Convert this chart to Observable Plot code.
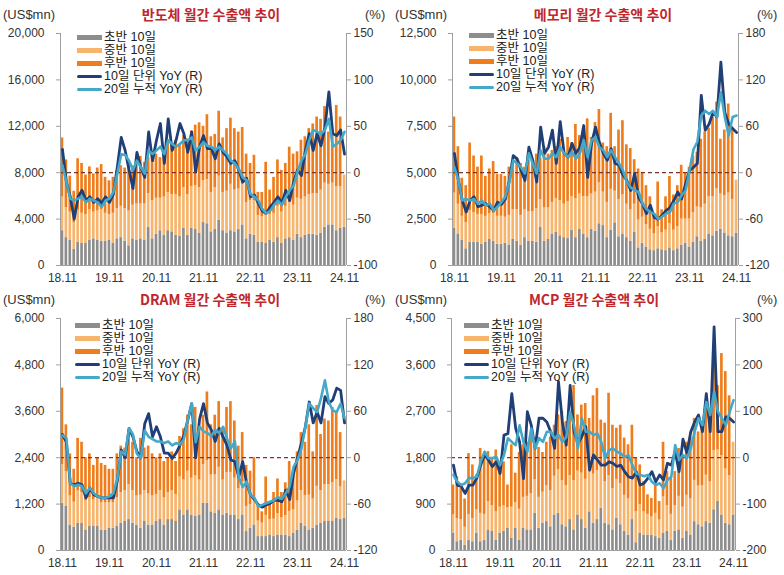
<!DOCTYPE html>
<html><head><meta charset="utf-8">
<script src="https://cdn.jsdelivr.net/npm/d3@7"></script>
<script src="https://cdn.jsdelivr.net/npm/@observablehq/plot@0.6"></script>
<style>
body{margin:0;background:#fff;}
#wrap{position:relative;width:784px;height:575px;overflow:hidden;font-family:"Liberation Sans","Noto Sans CJK KR",sans-serif;color:#333;}
.panel{position:absolute;}
.title{position:absolute;font-family:"Noto Sans CJK KR",sans-serif;font-weight:700;font-size:14px;color:#c0272d;transform:translateX(-50%);white-space:nowrap;line-height:16px;}
.unit{position:absolute;font-size:13px;color:#333;line-height:15px;white-space:nowrap;}
.leg{position:absolute;font-size:12.5px;color:#222;}
.leg .row{position:absolute;left:0;white-space:nowrap;height:12px;}
.leg .sw{position:absolute;left:0;width:25px;}
.leg .tx{position:absolute;left:27px;top:0;line-height:12px;height:12px;}
</style></head>
<body><div id="wrap"></div>
<script>
// ---- x axis ----
const xTickPos = [0, 12, 24, 36, 48, 60, 72];
const xTickLabels = ["18.11", "19.11", "20.11", "21.11", "22.11", "23.11", "24.11"];
const seriesNames = ["초반 10일", "중반 10일", "후반 10일", "10일 단위 YoY (R)", "20일 누적 YoY (R)"];
const titles = ["반도체 월간 수출액 추이", "메모리 월간 수출액 추이", "DRAM 월간 수출액 추이", "MCP 월간 수출액 추이"];

// ---- 반도체 (US$mn, %) ----
const semiLeftTicks = [0, 4000, 8000, 12000, 16000, 20000];
const semiRightTicks = [-100, -50, 0, 50, 100, 150];
const semi_g = [3000,2400,2200,1400,2000,1900,1900,2200,2300,2200,2100,2100, 2200,1900,2300,2400,2100,1700,2300,2200,2300,2200,3300,2300, 2700,3000,2600,3000,2900,2600,2500,3200,2600,3200,3100,2800, 3700,3600,2900,3100,3900,3000,2800,3000,2900,3100,3500,2300, 2700,2600,2000,2000,1900,2200,2000,2400,1900,2300,2400,2200, 2700,2400,2600,2700,2700,2600,2800,3300,3500,3500,3000,3200,3300];
const semi_m = [2900,2600,2400,2300,2800,2600,2500,2600,2300,2500,2700,2400, 2200,2600,2600,2700,2800,3000,2900,3100,3000,3100,2900,3300, 3100,2800,3300,3300,3200,3500,3400,3500,3500,3600,3800,3900, 3600,3800,3400,3600,3800,3300,3600,4000,3600,3500,3500,3100, 2900,3000,2300,2200,2600,2200,2500,2700,2700,2800,3000,3000, 3100,3300,3300,3400,3500,3600,3700,3800,3500,3600,3800,3600,4500];
const semi_l = [5100,4100,3100,2700,4400,4300,3400,3700,3300,3700,3900,3100, 2900,3100,3300,3500,3500,4300,3400,3900,4100,3600,3100,4200, 3800,3500,4300,4300,4000,4700,4500,4500,4800,4800,5200,5600, 4700,5600,4800,4600,5600,4700,5400,5700,5300,4900,4900,4200, 3200,3900,2000,2100,4400,2100,3100,4000,3600,3700,4800,4400, 4000,5100,5200,5700,6000,6600,6100,6600,4500,4300,7000,6000,0];
const semi_d10 = [25,-10,-26,-50,-26,-19,-30,-26,-32,-28,-33,-26, -32,-23,6,38,24,3,-17,22,6,-5,44,13, 35,53,10,58,24,35,53,42,22,44,1,28, 40,26,26,15,31,22,17,10,13,3,-10,-6, -26,-24,-33,-41,-44,-37,-32,-26,-33,-19,-30,-10, 3,-3,24,42,24,42,29,49,87,42,40,46,20];
const semi_d20 = [8,-10,-28,-30,-28,-26,-32,-28,-30,-32,-37,-30, -28,-21,-1,20,19,13,3,13,6,-1,24,20, 24,28,20,35,31,28,31,35,35,38,24,28, 33,29,28,24,28,24,20,13,10,4,-5,-8, -23,-26,-30,-39,-44,-41,-35,-30,-35,-26,-19,-14, 1,13,20,35,46,44,42,46,58,28,31,35,44];

// ---- 메모리 ----
const memLeftTicks = [0, 2500, 5000, 7500, 10000, 12500];
const memRightTicks = [-120, -60, 0, 60, 120, 180];
const mem_g = [2000,1700,1350,900,1250,1250,1250,1150,1250,1400,1300,1150, 1150,1200,1100,1400,1300,1100,1500,1300,1300,1250,2050,1300, 1400,1700,1800,1600,1500,1450,1900,1500,1950,1700,1500,1950, 1850,2250,2150,1500,1900,2300,1550,1700,1500,1300,1800,950, 1200,1000,850,800,900,850,800,950,800,900,1100,1200, 1000,1250,1550,1300,1400,1700,1600,1850,1950,1750,1600,1550,1750];
const mem_m = [1900,1600,1300,1400,1700,1600,1500,1600,1400,1400,1500,1500, 1500,1400,1600,1600,1700,1600,1500,1600,1600,1800,1500,1800, 1700,1700,1800,1900,1800,2000,1800,2100,1900,2000,2200,1900, 2100,2200,1800,1900,2200,1700,2000,2100,1800,1700,1500,1500, 1400,1200,1100,900,1200,900,1100,1300,1100,1200,1400,1300, 1500,1600,1600,1800,1900,2000,2100,2300,1900,2000,2300,2000,2850];
const mem_l = [4100,3100,2050,2000,3650,3050,2550,3150,2150,2400,2800,2250, 2250,2200,2600,2600,2800,2800,2300,2800,2700,2950,2250,3300, 2900,2800,2800,3300,2900,3450,2900,4000,3150,3700,4200,3050, 3750,3950,2650,3000,4100,2400,3750,4000,3200,3300,2400,2750, 2400,2100,1750,1100,2400,1250,1800,2550,1900,2200,2900,2500, 2800,3050,2950,3700,3900,3700,4300,4650,2950,3550,4800,3850,0];
const mem_d10 = [25,-10,-36,-51,-36,-31,-44,-42,-40,-44,-49,-38, -41,-34,-10,22,18,3,-10,33,16,-12,59,25, 33,55,12,66,25,20,38,25,33,61,-6,38, 59,39,25,16,31,12,10,-3,-10,-23,-1,-32, -40,-53,-42,-58,-60,-55,-49,-45,-36,-25,-34,-14, 3,7,12,100,55,63,78,72,143,78,63,57,52];
const mem_d20 = [7,-10,-36,-34,-36,-34,-40,-36,-42,-40,-49,-44, -38,-31,-12,16,12,7,-1,25,12,-1,29,18, 18,25,20,33,25,20,27,18,25,42,20,42, 46,33,29,20,29,20,12,3,-12,-19,-23,-25, -40,-47,-51,-53,-60,-57,-53,-51,-40,-38,-29,-23, 3,30,40,74,80,76,80,72,104,72,48,72,74];

// ---- DRAM ----
const dramLeftTicks = [0, 1200, 2400, 3600, 4800, 6000];
const dramRightTicks = [-120, -60, 0, 60, 120, 180];
const dram_g = [1220,1140,660,600,700,700,530,620,620,620,530,530, 580,580,620,700,750,800,700,660,580,750,660,660, 750,800,660,800,800,750,1050,920,1050,920,880,920, 1220,1220,1000,960,1050,920,960,920,920,800,920,490, 580,660,360,360,360,400,360,400,400,400,360,450, 530,700,620,530,580,660,700,750,750,750,830,800,830];
const dram_m = [1000,900,750,650,850,800,750,750,700,750,700,700, 650,650,750,800,800,900,850,750,850,800,800,750, 700,750,700,700,750,700,850,900,1000,950,1050,900, 1000,1100,950,1000,1100,900,1050,1100,950,800,850,650, 600,700,400,350,550,400,450,550,450,500,650,600, 750,850,800,900,750,1000,850,950,950,1000,1000,850,970];
const dram_l = [1980,1210,1090,850,1350,1300,1120,1130,880,1030,1020,970, 870,870,1130,1200,1100,1400,1250,990,1470,1100,1240,1090, 950,950,940,900,1000,850,1050,1330,1450,1380,1770,1330, 1280,1780,1300,1540,1700,1330,1690,1830,1480,1100,1280,1060, 870,1040,440,290,990,400,690,900,650,850,1290,1000, 1270,1500,1380,1820,1220,2090,1450,1700,1650,1950,1770,1400,0];
const dram_d10 = [30,20,-33,-35,-33,-35,-52,-39,-48,-50,-52,-52, -52,-52,-30,10,0,38,27,8,0,44,57,27, 40,27,6,6,-1,6,16,29,49,70,0,50, 70,45,36,21,38,27,16,-3,-5,-25,-5,-33, -48,-54,-61,-64,-61,-59,-55,-55,-57,-42,-54,-20, 0,19,40,72,45,59,45,79,70,75,90,87,45];
const dram_d20 = [29,25,-33,-37,-35,-37,-46,-39,-46,-50,-52,-52, -50,-46,-27,8,4,38,30,5,0,35,27,24, 21,21,19,21,16,19,17,24,50,70,20,40, 34,32,28,36,32,40,25,12,21,-25,-38,-31, -48,-52,-63,-61,-59,-57,-55,-51,-53,-46,-37,-12, -3,12,40,70,64,59,77,100,72,61,59,70,51];

// ---- MCP ----
const mcpLeftTicks = [0, 900, 1800, 2700, 3600, 4500];
const mcpRightTicks = [-200, -100, 0, 100, 200, 300];
const mcp_g = [340,170,200,100,200,170,340,170,200,400,370,200, 340,370,430,240,430,200,430,400,400,720,430,530, 560,460,690,720,500,460,600,400,690,600,430,750, 530,600,820,530,500,400,630,500,370,300,600,150, 340,300,300,300,270,240,340,370,200,370,400,240, 370,300,560,500,460,560,530,790,950,690,530,500,690];
const mcp_m = [350,450,400,350,500,450,450,550,500,550,500,550, 500,500,400,600,500,600,600,650,700,650,600,600, 700,700,750,850,850,800,850,950,850,900,950,800, 950,950,800,800,950,800,750,800,700,700,800,600, 550,450,400,350,450,350,700,500,500,500,650,600, 700,700,800,750,800,900,800,1150,1000,1150,1050,950,1410];
const mcp_l = [580,810,600,550,1180,1040,680,1260,1150,970,920,1200, 760,850,440,1210,570,1100,1020,1050,1140,810,970,770, 840,1040,990,1060,1350,1240,1210,1850,1090,1320,1470,1010, 1520,1590,910,1140,1600,1230,990,1130,1110,1050,1030,1040, 770,590,380,360,550,360,1060,660,700,660,930,950, 1030,1200,1200,1050,1240,1420,1100,1780,1250,1980,1890,1550,0];
const mcp_d10 = [-16,-59,-62,-77,-59,-59,-44,-16,6,-5,-19,-9, -34,49,52,138,63,34,-45,99,70,20,85,85, 77,56,20,164,77,27,156,56,31,45,67,-27, 6,-5,-16,-16,-9,-12,-19,-16,-30,-41,-44,-30, -59,-55,-44,-30,-52,-37,-48,-12,-16,13,-30,40, 10,56,77,92,56,138,56,282,56,56,88,85,77];
const mcp_d20 = [-37,-52,-59,-55,-44,-44,-41,-9,13,-1,-1,2, -16,6,42,34,27,70,34,13,63,20,42,34, 56,56,42,49,34,44,99,70,20,85,56,56, 49,52,34,-1,16,20,13,9,2,5,-16,-34, -37,-40,-37,-52,-59,-55,-66,-48,-41,27,-5,6, -1,20,56,85,70,120,92,142,99,85,70,99,124];

const zeroRef = [0];

const COL = {g:"#8d8d8d", m:"#f7b46c", l:"#ef7d1c", d10:"#1f3f76", d20:"#45a8c8", axis:"#a0a0a0"};

const panels = [
  {title:titles[0], left:0, top:0, ml:60, mr:46, lt:semiLeftTicks, rt:semiRightTicks, g:semi_g, m:semi_m, l:semi_l, d10:semi_d10, d20:semi_d20, tx:211, leg:{x:77,y:31}, zc:"#7d3226"},
  {title:titles[1], left:392, top:0, ml:60, mr:46, lt:memLeftTicks, rt:memRightTicks, g:mem_g, m:mem_m, l:mem_l, d10:mem_d10, d20:mem_d20, tx:211, leg:{x:77,y:29}, zc:"#7d3226"},
  {title:titles[2], left:0, top:285, ml:60, mr:46, lt:dramLeftTicks, rt:dramRightTicks, g:dram_g, m:dram_m, l:dram_l, d10:dram_d10, d20:dram_d20, tx:210, leg:{x:75,y:34}, zc:"#9e2a24"},
  {title:titles[3], left:392, top:285, ml:59, mr:49, lt:mcpLeftTicks, rt:mcpRightTicks, g:mcp_g, m:mcp_m, l:mcp_l, d10:mcp_d10, d20:mcp_d20, tx:202, leg:{x:72,y:34}, zc:"#9e2a24"}
];

const wrap = document.getElementById("wrap");
const idx = d3.range(xTickPos[xTickPos.length-1] + 1);

panels.forEach(p => {
  const lmax = p.lt[p.lt.length-1];
  const rmin = p.rt[0], rmax = p.rt[p.rt.length-1];
  const toL = v => (v - rmin) / (rmax - rmin) * lmax;
  const fromL = v => Math.round(v / lmax * (rmax - rmin) + rmin);
  const w = 0.34;
  const chart = Plot.plot({
    width: 392, height: 290,
    marginTop: 33, marginBottom: 25, marginLeft: p.ml, marginRight: p.mr,
    x: {domain: [-0.5, idx.length - 0.5], axis: null},
    y: {domain: [0, lmax], axis: null},
    style: {fontFamily: '"Liberation Sans","Noto Sans CJK KR",sans-serif', fontSize: "12px", color: "#333", background: "transparent", overflow: "visible"},
    marks: [
      Plot.rectY(idx, {x1: i => i - w, x2: i => i + w, y1: 0, y2: i => p.g[i], fill: COL.g}),
      Plot.rectY(idx, {x1: i => i - w, x2: i => i + w, y1: i => p.g[i], y2: i => p.g[i] + p.m[i], fill: COL.m}),
      Plot.rectY(idx.filter(i => p.l[i] > 0), {x1: i => i - w, x2: i => i + w, y1: i => p.g[i] + p.m[i], y2: i => p.g[i] + p.m[i] + p.l[i], fill: COL.l}),
      Plot.ruleY(zeroRef, {y: d => toL(d), stroke: p.zc, strokeWidth: 1.3, strokeDasharray: "4,3"}),
      Plot.line(idx, {x: i => i, y: i => toL(p.d10[i]), stroke: COL.d10, strokeWidth: 2.8, strokeLinejoin: "round"}),
      Plot.line(idx, {x: i => i, y: i => toL(p.d20[i]), stroke: COL.d20, strokeWidth: 2.6, strokeLinejoin: "round"}),
      Plot.ruleX([-0.5], {stroke: COL.axis, strokeWidth: 1}),
      Plot.ruleX([idx.length - 0.5], {stroke: COL.axis, strokeWidth: 1}),
      Plot.ruleY([0], {stroke: COL.axis, strokeWidth: 1}),
      Plot.axisY(p.lt, {anchor: "left", tickSize: 4, tickPadding: 12, tickFormat: d3.format(","), stroke: COL.axis, fill: "#333"}),
      Plot.axisY(p.rt.map(toL), {anchor: "right", tickSize: 4, tickPadding: 3, tickFormat: v => String(fromL(v)), stroke: COL.axis, fill: "#333"}),
      Plot.axisX(xTickPos, {anchor: "bottom", tickSize: 0, tickPadding: 8, tickFormat: (v) => xTickLabels[xTickPos.indexOf(v)], fill: "#333"})
    ]
  });
  chart.classList.add("panel");
  chart.style.left = p.left + "px";
  chart.style.top = p.top + "px";
  wrap.appendChild(chart);

  const t = document.createElement("div");
  t.className = "title"; t.textContent = p.title;
  t.style.left = (p.left + p.tx) + "px"; t.style.top = (p.top + 6) + "px";
  wrap.appendChild(t);

  const u = document.createElement("div");
  u.className = "unit"; u.textContent = "(US$mn)";
  u.style.left = (p.left + 3) + "px"; u.style.top = (p.top + 7) + "px";
  wrap.appendChild(u);

  const pc = document.createElement("div");
  pc.className = "unit"; pc.textContent = "(%)";
  pc.style.left = (p.left + 365) + "px"; pc.style.top = (p.top + 7) + "px";
  wrap.appendChild(pc);

  const leg = document.createElement("div");
  leg.className = "leg";
  leg.style.left = (p.left + p.leg.x) + "px"; leg.style.top = (p.top + p.leg.y) + "px";
  const swc = [COL.g, COL.m, COL.l, COL.d10, COL.d20];
  seriesNames.forEach((name, k) => {
    const row = document.createElement("div");
    row.className = "row"; row.style.top = (k * 12.9) + "px";
    const sw = document.createElement("div");
    sw.className = "sw"; sw.style.background = swc[k];
    if (k < 3) { sw.style.height = "5px"; sw.style.top = "4px"; }
    else { sw.style.height = "3.5px"; sw.style.top = "5px"; sw.style.borderRadius = "2px"; }
    const tx = document.createElement("div");
    tx.className = "tx"; tx.textContent = name;
    row.appendChild(sw); row.appendChild(tx);
    leg.appendChild(row);
  });
  wrap.appendChild(leg);
});
</script>
</body></html>
